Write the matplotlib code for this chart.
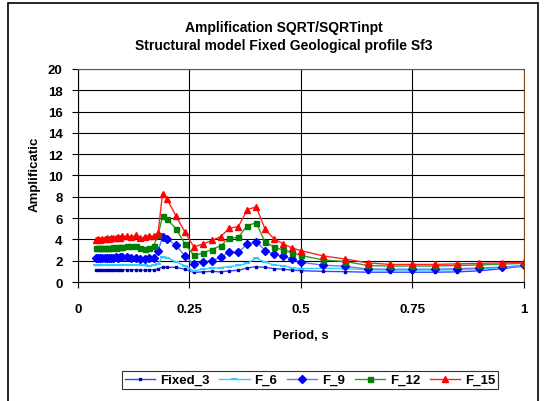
import matplotlib
matplotlib.use("Agg")
import matplotlib.pyplot as plt
from matplotlib.patches import Rectangle

plt.rcParams["font.family"] = ["Liberation Sans", "DejaVu Sans"]

# Period, s
period = [0.04, 0.045, 0.05, 0.055, 0.06, 0.065, 0.07, 0.075, 0.08, 0.085, 0.09, 0.095, 0.10,
          0.11, 0.12, 0.13, 0.14, 0.15, 0.16, 0.17, 0.18, 0.19, 0.20,
          0.22, 0.24, 0.26, 0.28, 0.30, 0.32, 0.34, 0.36, 0.38, 0.40, 0.42, 0.44, 0.46, 0.48, 0.50,
          0.55, 0.60, 0.65, 0.70, 0.75, 0.80, 0.85, 0.90, 0.95, 1.00]

fixed_3 = [1.10, 1.10, 1.10, 1.10, 1.10, 1.10, 1.10, 1.12, 1.10, 1.12, 1.12, 1.15, 1.15,
           1.15, 1.15, 1.15, 1.12, 1.10, 1.12, 1.15, 1.20, 1.42, 1.38,
           1.38, 1.20, 0.90, 0.95, 1.00, 0.95, 1.05, 1.10, 1.32, 1.44, 1.38, 1.25, 1.20, 1.12, 1.06,
           1.00, 0.97, 0.92, 0.92, 0.92, 0.92, 0.95, 1.05, 1.25, 1.50]

f_6 = [1.55, 1.55, 1.55, 1.55, 1.60, 1.55, 1.55, 1.60, 1.55, 1.55, 1.60, 1.60, 1.60,
       1.60, 1.60, 1.60, 1.55, 1.55, 1.50, 1.55, 1.70, 2.35, 2.30,
       1.90, 1.53, 1.05, 1.20, 1.30, 1.35, 1.45, 1.55, 1.75, 2.25, 1.85, 1.60, 1.53, 1.35, 1.25,
       1.30, 1.25, 1.15, 1.12, 1.12, 1.12, 1.15, 1.25, 1.35, 1.50]

f_9 = [2.30, 2.30, 2.30, 2.30, 2.30, 2.30, 2.30, 2.30, 2.30, 2.35, 2.30, 2.35, 2.35,
       2.35, 2.30, 2.30, 2.20, 2.15, 2.25, 2.30, 2.90, 4.25, 4.05,
       3.45, 2.47, 1.65, 1.92, 2.00, 2.32, 2.80, 2.80, 3.57, 3.80, 2.95, 2.62, 2.40, 2.18, 1.85,
       1.58, 1.47, 1.22, 1.20, 1.20, 1.20, 1.25, 1.30, 1.40, 1.55]

f_12 = [3.15, 3.15, 3.20, 3.15, 3.20, 3.15, 3.20, 3.20, 3.25, 3.20, 3.25, 3.30, 3.30,
        3.35, 3.40, 3.35, 3.20, 3.10, 3.20, 3.40, 4.40, 6.20, 5.90,
        5.00, 3.60, 2.50, 2.70, 3.05, 3.40, 4.10, 4.20, 5.30, 5.55, 3.75, 3.30, 3.00, 2.75, 2.50,
        2.07, 1.92, 1.55, 1.50, 1.50, 1.50, 1.55, 1.60, 1.68, 1.75]

f_15 = [3.90, 4.00, 3.95, 4.05, 4.00, 4.10, 4.05, 4.10, 4.15, 4.10, 4.20, 4.15, 4.30,
        4.30, 4.20, 4.40, 4.10, 4.25, 4.35, 4.30, 4.60, 8.30, 7.80,
        6.20, 4.70, 3.30, 3.55, 3.90, 4.25, 5.05, 5.20, 6.80, 7.05, 4.95, 4.05, 3.60, 3.20, 2.95,
        2.45, 2.15, 1.80, 1.65, 1.65, 1.65, 1.70, 1.75, 1.80, 1.85]

x_ticks = [0, 0.25, 0.5, 0.75, 1]
x_tick_labels = ["0", "0.25", "0.5", "0.75", "1"]
y_ticks = list(range(0, 21, 2))

fig = plt.figure(figsize=(5.44, 4.02), dpi=100)
ax = fig.add_axes([0.143, 0.296, 0.820, 0.530])

ax.plot(period, fixed_3, color="#3344ff", lw=1, marker="s", ms=1.8,
        mfc="#0000aa", mec="#0000aa", label="Fixed_3")
ax.plot(period, f_6, color="#33ccff", lw=1, marker="_", ms=4, mew=1.5,
        mec="#33ccff", label="F_6")
ax.plot(period, f_9, color="#6677ff", lw=1, marker="D", ms=3.8,
        mfc="#0000ff", mec="#0000ff", label="F_9")
ax.plot(period, f_12, color="#339933", lw=1, marker="s", ms=3.6,
        mfc="#008000", mec="#008000", label="F_12")
ax.plot(period, f_15, color="#ff2222", lw=1, marker="^", ms=4.8,
        mfc="#ff0000", mec="#ff0000", label="F_15")

ax.set_xlim(0, 1)
ax.set_ylim(0, 20)
ax.set_xticks(x_ticks)
ax.set_xticklabels(x_tick_labels)
ax.set_yticks(y_ticks)
ax.grid(True, color="black", lw=0.8)
ax.set_axisbelow(True)
ax.tick_params(direction="out", length=4, width=0.8, labelsize=9.5)
ax.tick_params(axis="x", pad=11)
ax.tick_params(axis="y", pad=7)
for lab in ax.get_xticklabels() + ax.get_yticklabels():
    lab.set_fontweight("bold")
ax.spines["left"].set_color("black")
ax.spines["bottom"].set_color("black")
ax.spines["top"].set_color("#8b4a1c")
ax.spines["right"].set_color("#8b4a1c")

ax.set_xlabel("Period, s", fontsize=9.5, fontweight="bold", labelpad=10)
fig.text(35 / 544, 1 - 174 / 402, "Amplificatic", rotation=90, ha="center",
         va="center", fontsize=9.5, fontweight="bold")

fig.text(284 / 544, 1 - 37 / 402,
         "Amplification SQRT/SQRTinpt\nStructural model Fixed Geological profile Sf3",
         ha="center", va="center", fontsize=10, fontweight="bold", linespacing=1.3)

leg = fig.legend(loc="center", bbox_to_anchor=(310 / 544, 1 - 381 / 402), ncol=5,
                 frameon=True, fancybox=False, edgecolor="black",
                 handlelength=2.3, columnspacing=0.75, handletextpad=0.35,
                 borderpad=0.25, prop={"weight": "bold", "size": 9.5})
leg.get_frame().set_linewidth(0.8)

# figure border
fig.patches.append(Rectangle((8 / 544, -0.01), 530 / 544, 1.0 - 4 / 402 + 0.01,
                             transform=fig.transFigure, fill=False,
                             edgecolor="black", lw=1.2))

fig.savefig("out.png", dpi=100)
